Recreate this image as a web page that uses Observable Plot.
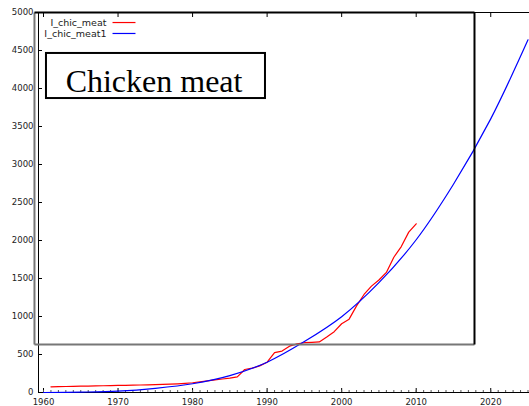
<!DOCTYPE html>
<html>
<head>
<meta charset="utf-8">
<script src="https://cdn.jsdelivr.net/npm/d3@7"></script>
<script src="https://cdn.jsdelivr.net/npm/@observablehq/plot@0.6"></script>
<style>
  html, body { margin: 0; padding: 0; background: #fff; }
  #chart svg { display: block; }
</style>
</head>
<body>
<div id="chart"></div>
<script>
// Observed series: I_chic_meat (red)
const years = [1961,1962,1963,1964,1965,1966,1967,1968,1969,1970,
               1971,1972,1973,1974,1975,1976,1977,1978,1979,1980,
               1981,1982,1983,1984,1985,1986,1987,1988,1989,1990,
               1991,1992,1993,1994,1995,1996,1997,1998,1999,2000,
               2001,2002,2003,2004,2005,2006,2007,2008,2009,2010];
const chicMeat = [75,77,79,81,83,85,87,89,91,93,
                  95,97,99,101,104,107,110,114,120,128,
                  140,152,165,178,190,205,303,320,350,399,
                  525,545,610,640,655,660,665,730,800,905,
                  965,1140,1290,1400,1480,1580,1780,1920,2110,2220];

// Fitted series: I_chic_meat1 (blue)
const fitYears = [1960,1965,1970,1975,1980,1985,1990,1995,2000,2005,2010,2015,2020,2025];
const chicMeatFit = [0,5,18,55,115,222,399,670,997,1445,2010,2740,3600,4640];

const xTicks = [1960,1970,1980,1990,2000,2010,2020];
const yTicks = [0,500,1000,1500,2000,2500,3000,3500,4000,4500,5000];
const minorX = d3.range(1960, 2026, 1);

const seriesNames = ["I_chic_meat", "I_chic_meat1"];
const seriesColors = ["#ff0000", "#0000ff"];

const titleText = "Chicken meat";

// annotation geometry (data units)
const xDomain = [1959.33, 2025.2];
const yDomain = [0, 5000];
const outerBox = {x1: 1958.79, x2: 2017.82, y1: 632, y2: 5000};
const innerBox = {x1: 1960.4, x2: 1989.78, y1: 3868, y2: 4461};
const titlePos = {x: 1974.83, y: 4090};
const legendTextX = 1968.45, legendLineX1 = 1969.26, legendLineX2 = 1972.34;
const legendRowsY = [4868, 4724];

const red = years.map((y, i) => ({year: y, value: chicMeat[i]}));
const fit = fitYears.map((y, i) => ({year: y, value: chicMeatFit[i]}));
const legend = seriesNames.map((n, i) => ({name: n, color: seriesColors[i], y: legendRowsY[i]}));

const outerEdges = [
  {x1: outerBox.x1, y1: outerBox.y1, x2: outerBox.x1, y2: outerBox.y2, c: "#777"},
  {x1: outerBox.x1, y1: outerBox.y1, x2: outerBox.x2, y2: outerBox.y1, c: "#777"},
  {x1: outerBox.x2, y1: outerBox.y1, x2: outerBox.x2, y2: outerBox.y2, c: "#000"},
  {x1: outerBox.x1, y1: outerBox.y2, x2: outerBox.x2, y2: outerBox.y2, c: "#000"}
];

const chart = Plot.plot({
  width: 529,
  height: 406,
  marginLeft: 38,
  marginRight: 0,
  marginTop: 12,
  marginBottom: 14,
  x: {domain: xDomain},
  y: {domain: yDomain},
  style: {fontFamily: "DejaVu Sans", fontSize: "8.5px", color: "#222", background: "#fff"},
  marks: [
    // axes frame lines
    Plot.ruleX([xDomain[0]], {stroke: "#000", strokeWidth: 1}),
    Plot.ruleY([0], {stroke: "#000", strokeWidth: 1}),
    Plot.ruleY([5000], {stroke: "#000", strokeWidth: 1}),
    // y axis
    Plot.axisY({ticks: yTicks, tickSize: 0, tickPadding: 5, tickFormat: d3.format("d"), label: null}),
    Plot.axisY({ticks: yTicks, tickSize: -4, tickFormat: () => "", label: null, stroke: "#000"}),
    // x axis bottom
    Plot.axisX({ticks: xTicks, tickSize: 0, tickPadding: 6, tickFormat: d3.format("d"), label: null}),
    Plot.axisX({ticks: xTicks, tickSize: -4, tickFormat: () => "", label: null, stroke: "#000"}),
    Plot.axisX({ticks: minorX, tickSize: -2, tickFormat: () => "", label: null, stroke: "#555"}),
    // x axis top (mirror ticks)
    Plot.axisX({anchor: "top", ticks: xTicks, tickSize: -4, tickFormat: () => "", label: null, stroke: "#000"}),
    // data lines
    Plot.line(red, {x: "year", y: "value", stroke: seriesColors[0], strokeWidth: 1.2}),
    Plot.line(fit, {x: "year", y: "value", stroke: seriesColors[1], strokeWidth: 1.2, curve: "catmull-rom"}),
    // outer annotation box
    Plot.link(outerEdges, {x1: "x1", y1: "y1", x2: "x2", y2: "y2", stroke: "c", strokeWidth: 2, clip: false}),
    // inner title box
    Plot.rect([innerBox], {x1: "x1", x2: "x2", y1: "y1", y2: "y2", fill: "#fff", stroke: "#000", strokeWidth: 2}),
    Plot.text([titleText], {x: titlePos.x, y: titlePos.y, text: d => d, fontFamily: "Liberation Serif", fontSize: 32, fill: "#000", textAnchor: "middle", lineAnchor: "middle"}),
    // legend
    Plot.text(legend, {x: legendTextX, y: "y", text: "name", textAnchor: "end", fontSize: 9.5, fill: "#222"}),
    Plot.link(legend, {x1: legendLineX1, x2: legendLineX2, y1: "y", y2: "y", stroke: "color", strokeWidth: 1.2})
  ]
});

document.getElementById("chart").appendChild(chart);
</script>
</body>
</html>
